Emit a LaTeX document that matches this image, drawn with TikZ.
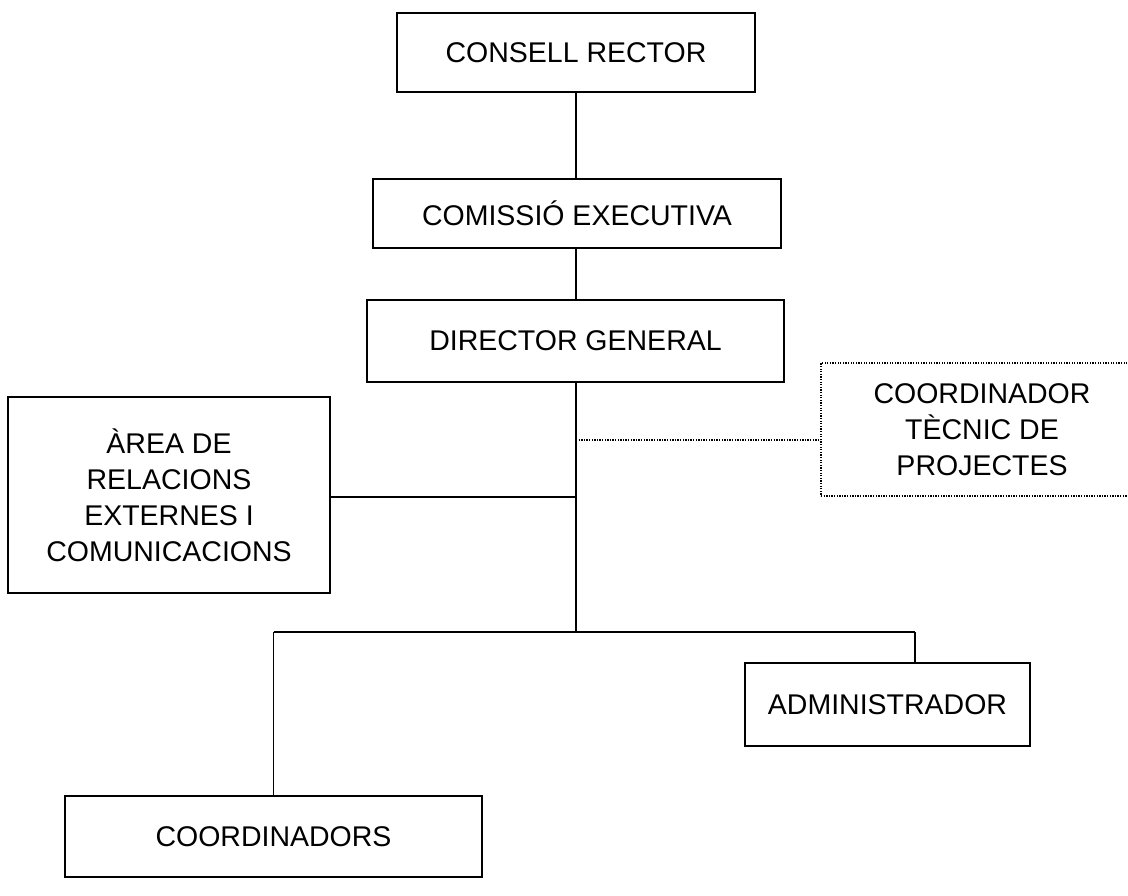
\documentclass[tikz,border=0pt]{standalone}
\usepackage{fontspec}
\setmainfont{Liberation Sans}
\begin{document}
\begin{tikzpicture}[x=1pt,y=-1pt,
  box/.style={draw=black, line width=1.5pt, rectangle, align=center, inner sep=0pt,
    font=\fontsize{28.5}{36}\selectfont},
  dotbox/.style={box, dash pattern=on 1.3pt off 1.3pt, line width=1.2pt},
  conn/.style={draw=black, line width=1.5pt},
  dotconn/.style={draw=black, line width=1.2pt, dash pattern=on 1.3pt off 1.3pt}]
\useasboundingbox (0,0) rectangle (1128,896);
\clip (0,0) rectangle (1128,896);
\node[box, minimum width=358, minimum height=79] (cr) at (576,52.5) {CONSELL RECTOR};
\node[box, minimum width=408, minimum height=69] (ce) at (577,213.5) {COMISSIÓ EXECUTIVA};
\node[box, minimum width=417, minimum height=82] (dg) at (575.5,341) {DIRECTOR GENERAL};
\node[dotbox, minimum width=322, minimum height=133] (ct) at (982,429.5) {COORDINADOR\\TÈCNIC DE\\PROJECTES};
\node[box, minimum width=322, minimum height=196] (ar) at (169,495) {ÀREA DE\\RELACIONS\\EXTERNES I\\COMUNICACIONS};
\node[box, minimum width=285, minimum height=83] (ad) at (887.5,704.5) {ADMINISTRADOR};
\node[box, minimum width=417, minimum height=81] (co) at (273.5,836.5) {COORDINADORS};
\coordinate (j0) at (576,632);
\coordinate (jd) at (576,440);
\coordinate (ja) at (576,497);
\coordinate (jl) at (273.5,632);
\coordinate (jr) at (915,632);
\draw[conn] (cr.south -| j0) -- (ce.north -| j0);
\draw[conn] (ce.south -| j0) -- (dg.north -| j0);
\draw[conn] (dg.south -| j0) -- (j0);
\draw[conn] (ja) -- (ar.east |- ja);
\draw[dotconn] (jd) -- (ct.west |- jd);
\draw[conn] (jl) -- (jr);
\draw[conn] (jl) -- (co.north);
\draw[conn] (jr) -- (ad.north -| jr);
\end{tikzpicture}
\end{document}
